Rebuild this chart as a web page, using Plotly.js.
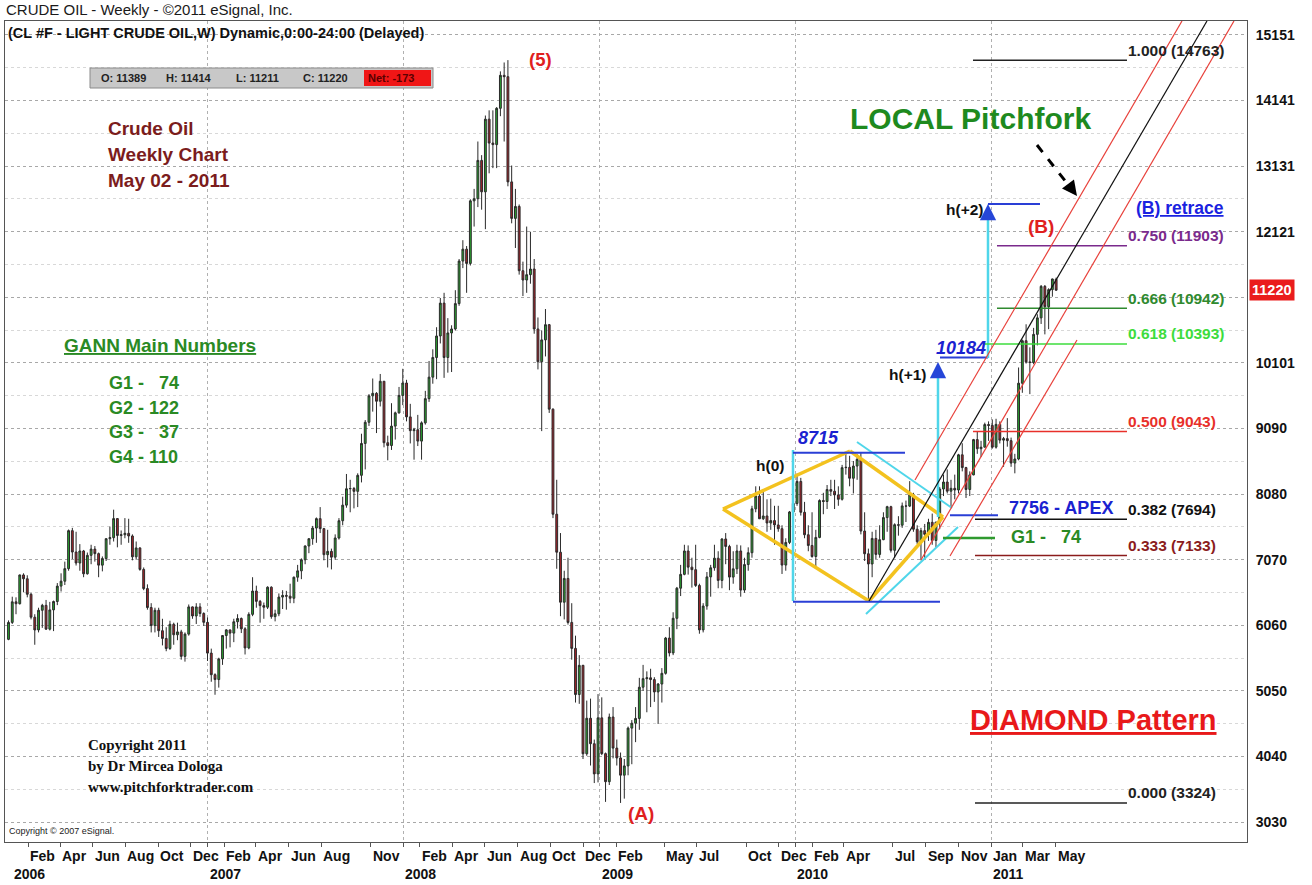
<!DOCTYPE html>
<html>
<head>
<meta charset="utf-8">
<script src="https://cdn.plot.ly/plotly-3.0.1.min.js"></script>
<style>html,body{margin:0;padding:0;background:#fff;}#chart{width:1312px;height:885px;}</style>
</head>
<body>
<div id="chart"></div>
<script>
// ---------------- DATA (weekly bars, CL #F, chart units = price x 100) ----------------
// first bar = week of 2005-12-26, one bar per week, last bar = week of 2011-05-02
const firstWeek = '2005-12-26';
const openP = [
5843,6104,6421,6392,6835,6776,6537,6184,5988,6291,
6367,6000,6297,6426,6663,6739,6932,7517,7188,7019,
7204,6853,7137,7233,7163,6986,7087,7393,7409,7703,
7443,7454,7476,7435,7114,7251,6920,6625,6333,6055,
6291,5976,5857,5702,6075,5914,5958,5581,5924,6343,
6203,6343,6241,6105,5631,5299,5224,5542,5902,5989,
5939,6114,6164,6005,5711,6228,6587,6428,6363,6338,
6646,6193,6237,6494,6520,6508,6476,6800,6898,7068,
7281,7393,7557,7702,7548,7147,7198,7109,7404,7670,
7910,8162,8166,8122,8369,8860,9186,9593,9632,9510,
9818,8871,8828,9127,9331,9600,9791,9269,9057,9071,
8896,9177,9550,9881,10184,10515,11021,10184,10562,10623,
11014,11669,11852,11632,12596,12629,13219,12735,13854,13486,
13462,14021,14529,14508,12888,12326,12510,11520,11377,11459,
11546,10623,10118,10455,10689,9388,7770,7185,6415,6781,
6104,5704,4993,5443,4081,4628,4236,3771,4634,4083,
3651,4647,4168,4017,3751,3894,4476,4552,4625,5106,
5238,5251,5224,5033,5155,5320,5863,5634,6167,6631,
6844,7204,6955,6916,6673,5989,6356,6805,6945,7093,
6751,7389,7274,6802,6929,7204,6602,6995,7177,7853,
8050,7700,7743,7635,7672,7605,7547,6987,7336,7805,
7936,8275,7800,7454,7289,7119,7413,7981,7966,8150,
8124,8068,8000,8487,8492,8324,8512,8615,7511,7161,
7004,7397,7151,7378,7718,7886,7214,7609,7601,7898,
7895,8070,7539,7346,7517,7460,7645,7366,7649,8158,
8266,8125,8169,8143,8685,8488,8151,8376,8919,8779,
8802,9151,9138,8803,9154,8911,8934,8903,8558,8620,
9788,10442,10116,10107,10540,10794,11279,10966,11229,11389];
const highP = [
6135,6500,6490,6840,6860,6830,6560,6230,6330,6390,
6450,6420,6440,6710,6860,7040,7535,7560,7500,7310,
7220,7180,7300,7280,7180,7120,7400,7580,7840,7710,
7520,7710,7700,7460,7350,7260,6950,6690,6400,6330,
6330,6160,6030,6130,6100,6100,5990,5950,6380,6350,
6400,6400,6260,6180,5700,5320,5560,5910,6000,5990,
6160,6230,6180,6030,6260,6800,6670,6450,6410,6660,
6660,6300,6550,6600,6590,6700,6810,6990,7090,7290,
7400,7590,7720,7880,7560,7530,7240,7460,7710,8040,
8390,8300,8190,8400,9010,9220,9620,9860,9650,9930,
9820,8980,9480,9350,9730,10010,9840,9470,9100,9300,
9200,9670,10130,10310,10650,11100,11180,10790,10680,11220,
11700,11990,11900,12620,12780,13510,13300,13910,13990,13990,
14040,14590,14727,14763,13140,12780,12540,11660,12200,12120,
11700,10800,10600,10930,10700,9400,8300,7480,6900,7100,
6400,5900,5600,5450,4900,4930,4300,5000,4950,4100,
4700,4800,4300,4100,4000,4500,4600,4800,5250,5450,
5350,5390,5260,5170,5400,5880,6030,6260,6650,6990,
7300,7290,7100,7300,6700,6400,6880,6990,7300,7200,
7400,7480,7300,7200,7300,7290,7100,7260,7900,8200,
8200,8150,8000,8010,7900,7900,7600,7400,7820,8000,
8395,8330,7960,7600,7800,7530,8000,8100,8220,8300,
8300,8200,8530,8700,8670,8590,8700,8715,7800,7240,
7500,7530,7600,7800,7900,7900,7630,7740,7950,7980,
8280,8100,7600,7560,7620,7700,7780,7650,8190,8380,
8460,8300,8380,8700,8863,8500,8430,8930,9050,8900,
9180,9200,9230,9240,9200,8960,9250,8950,8700,10030,
10460,10695,10340,10640,10850,11300,11300,11250,11398,11414];
const lowP = [
5830,6080,6230,6380,6570,6490,6150,5760,5950,6020,
5990,5980,5970,6370,6580,6680,6900,7080,6980,6900,
6800,6840,7000,7040,6800,6890,7050,7300,7350,7260,
7300,7400,7330,7060,7070,6900,6600,6300,5950,5950,
5880,5750,5660,5680,5760,5830,5530,5500,5900,6160,
6080,6190,6050,5510,5190,4990,5100,5450,5700,5720,
5800,6010,5940,5610,5690,6200,6330,6100,6160,6310,
6160,6120,6200,6310,6300,6400,6400,6730,6770,7000,
7170,7300,7330,7480,7060,6950,6920,7070,7380,7600,
7870,7800,7860,7880,8260,8460,9130,9350,9020,9430,
8800,8600,8760,8920,9320,9450,9200,8860,8610,8820,
8610,9150,9500,9780,9850,10400,9870,9950,9960,10600,
10980,11560,11180,11600,12200,12500,12460,12160,13020,13100,
13100,13900,13510,12820,12250,11870,11460,11130,11180,11320,
10550,10000,9050,10200,9330,7710,6930,6200,6150,6070,
5530,4870,4850,4000,4050,3900,3630,3640,4060,3340,
3600,4010,3900,3324,3390,3750,3920,4260,4450,5050,
4720,4800,4880,4540,4870,5300,5580,5600,6000,6510,
6830,6840,6640,6650,5930,5950,6300,6500,6900,6630,
6630,7000,6600,6700,6850,6500,6560,6900,7100,7800,
7700,7680,7500,7530,7300,7500,6850,6900,7310,7800,
7900,7750,7400,7200,7100,6950,7400,7770,7850,8050,
7850,7900,7980,8380,8200,8090,8300,7460,7050,6424,
6800,7080,7100,7370,7500,7180,7100,7440,7560,7650,
7880,7500,7310,7060,7080,7360,7300,7260,7540,8050,
8090,7870,8000,8090,8430,8020,8050,8370,8700,8650,
8800,8900,8780,8780,8860,8500,8810,8500,8400,8600,
9640,10090,9620,10080,10370,10700,10540,10620,11120,11211];
const closeP = [
6104,6421,6392,6835,6776,6537,6184,5988,6291,6367,
6000,6297,6426,6663,6739,6932,7517,7188,7019,7204,
6853,7137,7233,7163,6986,7087,7393,7409,7703,7443,
7454,7476,7435,7114,7251,6920,6625,6333,6055,6291,
5976,5857,5702,6075,5914,5958,5581,5924,6343,6203,
6343,6241,6105,5631,5299,5224,5542,5902,5989,5939,
6114,6164,6005,5711,6228,6587,6428,6363,6338,6646,
6193,6237,6494,6520,6508,6476,6800,6898,7068,7281,
7393,7557,7702,7548,7147,7198,7109,7404,7670,7910,
8162,8166,8122,8369,8860,9186,9593,9632,9510,9818,
8871,8828,9127,9331,9600,9791,9269,9057,9071,8896,
9177,9550,9881,10184,10515,11021,10184,10562,10623,11014,
11669,11852,11632,12596,12629,13219,12735,13854,13486,13462,
14021,14529,14508,12888,12326,12510,11520,11377,11459,11546,
10623,10118,10455,10689,9388,7770,7185,6415,6781,6104,
5704,4993,5443,4081,4628,4236,3771,4634,4083,3651,
4647,4168,4017,3751,3894,4476,4552,4625,5106,5238,
5251,5224,5033,5155,5320,5863,5634,6167,6631,6844,
7204,6955,6916,6673,5989,6356,6805,6945,7093,6751,
7389,7274,6802,6929,7204,6602,6995,7177,7853,8050,
7700,7743,7635,7672,7605,7547,6987,7336,7805,7936,
8275,7800,7454,7289,7119,7413,7981,7966,8150,8124,
8068,8000,8487,8492,8324,8512,8615,7511,7161,7004,
7397,7151,7378,7718,7886,7214,7609,7601,7898,7895,
8070,7539,7346,7517,7460,7645,7366,7649,8158,8266,
8125,8169,8143,8685,8488,8151,8376,8919,8779,8802,
9151,9138,8803,9154,8911,8934,8903,8558,8620,9788,
10442,10116,10107,10540,10794,11279,10966,11229,11393,11220];

// y axis tick labels (the 11111 label is covered by the last-price marker)
const yTickVals = [3030.3,4040.4,5050.5,6060.6,7070.7,8080.8,9090.9,10101,11111.1,12121.2,13131.3,14141.4,15151.5];
const yTickText = ['3030','4040','5050','6060','7070','8080','9090','10101','','12121','13131','14141','15151'];
// x axis month labels and year labels
const monthLabels = [
 ['2006-02-01','Feb'],['2006-04-01','Apr'],['2006-06-01','Jun'],['2006-08-01','Aug'],['2006-10-01','Oct'],['2006-12-01','Dec'],
 ['2007-02-01','Feb'],['2007-04-01','Apr'],['2007-06-01','Jun'],['2007-08-01','Aug'],['2007-11-01','Nov'],
 ['2008-02-01','Feb'],['2008-04-01','Apr'],['2008-06-01','Jun'],['2008-08-01','Aug'],['2008-10-01','Oct'],['2008-12-01','Dec'],
 ['2009-02-01','Feb'],['2009-05-01','May'],['2009-07-01','Jul'],['2009-10-01','Oct'],['2009-12-01','Dec'],
 ['2010-02-01','Feb'],['2010-04-01','Apr'],['2010-07-01','Jul'],['2010-09-01','Sep'],['2010-11-01','Nov'],
 ['2011-01-01','Jan'],['2011-03-01','Mar'],['2011-05-01','May']];
const yearLabels = [['2006-01-01','2006'],['2007-01-01','2007'],['2008-01-01','2008'],['2009-01-01','2009'],['2010-01-01','2010'],['2011-01-01','2011']];
// Fibonacci retracement levels of the (5)-(A) move
const fibRatios = ['1.000','0.750','0.666','0.618','0.500','0.382','0.333','0.000'];
const fibPrices = [14763,11903,10942,10393,9043,7694,7133,3324];
const fibColors = ['#222222','#7a2a8c','#2f8a2f','#3ddc3d','#e8302a','#111111','#8b1c1c','#222222'];
const gannLines = ['G1 - &nbsp;&nbsp;74','G2 - 122','G3 - &nbsp;&nbsp;37','G4 - 110'];
const lastBar = {O:11389,H:11414,L:11211,C:11220,Net:-173};

// ---------------- helpers ----------------
const BASE = Date.parse(firstWeek+'T00:00:00Z');
const WK = 7*864e5;
function pad(n){return (n<10?'0':'')+n;}
function fmt(ms){const d=new Date(ms);return d.getUTCFullYear()+'-'+pad(d.getUTCMonth()+1)+'-'+pad(d.getUTCDate())+' '+pad(d.getUTCHours())+':'+pad(d.getUTCMinutes())+':'+pad(d.getUTCSeconds());}
function wkDate(w){return fmt(BASE + w*WK);}
const dates = openP.map((_,i)=>wkDate(i));
// drawing positions for overlays (screen-derived helpers)
const PL=5, PR=1247, PT=21, PB=842;
function PX(x){return (x-PL)/(PR-PL);}
function PY(y){return (PB-y)/(PB-PT);}
function DX(x){return wkDate((x-8.5)/3.755);}
function DY(y){return 3030.3+(822-y)*15.4;}

const FONT='Liberation Sans, Arial, sans-serif';
const SERIF='Liberation Serif, Times New Roman, serif';

const trace = {
  type:'candlestick', x:dates, open:openP, high:highP, low:lowP, close:closeP,
  increasing:{line:{color:'#2a2a2a',width:1},fillcolor:'#2aa530'},
  decreasing:{line:{color:'#2a2a2a',width:1},fillcolor:'#a8232a'},
  whiskerwidth:0, hoverinfo:'skip', showlegend:false
};

const shapes=[]; const ann=[];
function seg(x0,y0,x1,y1,color,width,dash){shapes.push({type:'line',xref:'x',yref:'y',x0:DX(x0),y0:DY(y0),x1:DX(x1),y1:DY(y1),line:{color:color,width:width,dash:dash||'solid'}});}
function hline(xa,xb,price,color,width){shapes.push({type:'line',xref:'x',yref:'y',x0:DX(xa),x1:DX(xb),y0:price,y1:price,line:{color:color,width:width}});}
function txt(x,y,text,size,color,opts){ann.push(Object.assign({xref:'paper',yref:'paper',x:PX(x),y:PY(y),text:text,showarrow:false,xanchor:'left',yanchor:'middle',font:{family:FONT,size:size,color:color}},opts||{}));}

// Diamond
const GOLD='#f3c21f';
seg(723,509,850,451,GOLD,3.5); seg(850,451,943,517,GOLD,3.5); seg(943,517,869,601,GOLD,3.5); seg(869,601,723,509,GOLD,3.5);
// cyan outer lines of diamond
const CY='#4fd6ea';
seg(857,442,952,508,CY,2); seg(866,614,958,527,CY,2);
// cyan vertical box line and blue horizontals
seg(793,450,793,601,CY,2.5);
const BL='#2a3fd6';
hline(793,905,8715,BL,2);
hline(793,940,6424,BL,2);
// h(+1) projection
seg(938,517,938,372,CY,2.5);
hline(940,988,10184,BL,2);
// h(+2) projection
seg(988,358,988,214,CY,2.5);
hline(988,1040,DY(204),BL,2);
// APEX and G1 lines
hline(950,998,7756,BL,2);
hline(943,995,DY(538),'#2f9a2f',2.5);
// Fib lines
const fibStart=[973,997,997,985,973,975,975,975];
fibPrices.forEach((p,i)=>{hline(fibStart[i],1127,p,fibColors[i],1.5);});
// Pitchfork (median + parallels + warning line)
seg(869,601,1207,21,'#111111',1.2);
seg(915,480,1182,21,'#e8403a',1.2);
seg(921,560,1234,21,'#e8403a',1.2);
seg(950,556,1077,340,'#e8403a',1.2);
// dashed pointer to the pitchfork
seg(1037,145,1070,187,'#000000',3,'dash');

// OHLC box (paper)
shapes.push({type:'rect',xref:'paper',yref:'paper',x0:PX(90),x1:PX(433),y0:PY(68),y1:PY(88),fillcolor:'#c8c8c8',line:{color:'#8a8a8a',width:1}});
shapes.push({type:'rect',xref:'paper',yref:'paper',x0:PX(364),x1:PX(431),y0:PY(70),y1:PY(86),fillcolor:'#f01616',line:{width:0}});

// ---------- annotations ----------
txt(4,9,'CRUDE OIL - Weekly - ©2011 eSignal, Inc.',15,'#1a1a1a');
txt(6,33,'<b>(CL #F - LIGHT CRUDE OIL,W) Dynamic,0:00-24:00 (Delayed)</b>',14.5,'#111');
txt(99,78,'<b>O: '+lastBar.O+'</b>',11,'#222');
txt(164,78,'<b>H: '+lastBar.H+'</b>',11,'#222');
txt(234,78,'<b>L: '+lastBar.L+'</b>',11,'#222');
txt(301,78,'<b>C: '+lastBar.C+'</b>',11,'#222');
txt(366,78,'<b>Net: '+lastBar.Net+'</b>',11,'#5a0000');
const DR='#7b1c1c';
txt(106,128,'<b>Crude Oil</b>',19,DR);
txt(106,154,'<b>Weekly Chart</b>',19,DR);
txt(106,180,'<b>May 02 - 2011</b>',19,DR);
const GR='#2a8a24';
txt(62,345,'<b><u>GANN Main Numbers</u></b>',19,GR);
gannLines.forEach((t,i)=>txt(107,383+i*24.7,'<b>'+t+'</b>',18,GR));
txt(848,118,'<b>LOCAL Pitchfork</b>',30,'#1e8a1e');
txt(968,720,'<b><u>DIAMOND Pattern</u></b>',29,'#e8191a');
txt(1134,208,'<b><u>(B) retrace</u></b>',17.5,'#1a22e0');
fibPrices.forEach((p,i)=>{const y=822-(p-3030.3)/15.4-10;txt(1126,y,'<b>'+fibRatios[i]+' ('+p+')</b>',15.5,fibColors[i]);});
txt(527,60,'<b>(5)</b>',18.5,'#e0201e');
txt(626,813,'<b>(A)</b>',19,'#e0201e');
txt(1026,226,'<b>(B)</b>',19,'#e0201e');
txt(754,465,'<b>h(0)</b>',15.5,'#111');
txt(887,374,'<b>h(+1)</b>',15.5,'#111');
txt(944,210,'<b>h(+2)</b>',15.5,'#111');
txt(796,438,'<b><i>8715</i></b>',18,'#1a22d0');
txt(934,348,'<b><i>10184</i></b>',18,'#1a22d0');
txt(1007,508,'<b>7756 - APEX</b>',18,'#1a22d0');
txt(1009,537,'<b>G1 - &nbsp;&nbsp;74</b>',18,GR);
txt(86,745,'<b>Copyright 2011</b>',15,'#111',{font:{family:SERIF,size:15,color:'#111'}});
txt(86,766,'<b>by Dr Mircea Dologa</b>',15,'#111',{font:{family:SERIF,size:15,color:'#111'}});
txt(86,787,'<b>www.pitchforktrader.com</b>',15,'#111',{font:{family:SERIF,size:15,color:'#111'}});
txt(7,831,'Copyright © 2007 eSignal.',9,'#222');
// price marker on axis
ann.push({xref:'paper',yref:'y',x:PX(1249),y:lastBar.C,text:'<b>'+lastBar.C+'</b>',showarrow:false,xanchor:'left',yanchor:'middle',bgcolor:'#ea1c1c',font:{family:FONT,size:14.5,color:'#ffffff'},borderpad:2});
// arrowheads
ann.push({xref:'x',yref:'y',x:DX(1077),y:DY(196),ax:-9,ay:-12,text:'',showarrow:true,arrowhead:2,arrowsize:1,arrowwidth:3,arrowcolor:'#000'});
ann.push({xref:'x',yref:'y',x:DX(938),y:DY(362),ax:0,ay:14,text:'',showarrow:true,arrowhead:2,arrowsize:1.3,arrowwidth:2.5,arrowcolor:'#2646d8'});
ann.push({xref:'x',yref:'y',x:DX(988),y:DY(204),ax:0,ay:14,text:'',showarrow:true,arrowhead:2,arrowsize:1.3,arrowwidth:2.5,arrowcolor:'#2646d8'});
// x axis labels
monthLabels.forEach(m=>ann.push({xref:'x',yref:'paper',x:m[0],y:PY(856),text:'<b>'+m[1]+'</b>',showarrow:false,xanchor:'left',yanchor:'middle',font:{family:FONT,size:14,color:'#111'}}));
yearLabels.forEach(m=>ann.push({xref:'x',yref:'paper',x:m[0],y:PY(874),text:'<b>'+m[1]+'</b>',showarrow:false,xanchor:'left',yanchor:'middle',font:{family:FONT,size:14,color:'#111'}}));

const halfTicks = yTickVals.slice(0,-1).map((v,i)=>(v+yTickVals[i+1])/2);
const layout = {
  width:1312, height:885, margin:{l:PL,r:1312-PR,t:PT,b:885-PB,pad:0},
  paper_bgcolor:'#ffffff', plot_bgcolor:'#ffffff', showlegend:false, dragmode:false,
  xaxis:{type:'date', range:[wkDate(-0.932),wkDate(329.83)], rangeslider:{visible:false},
    showline:true, linecolor:'#555', linewidth:1, mirror:true, showticklabels:false,
    tickmode:'array', tickvals:yearLabels.slice(1).map(d=>d[0]), ticks:'outside', ticklen:4, tickcolor:'#555',
    showgrid:true, gridcolor:'#b0b0b0', griddash:'dot', gridwidth:1, zeroline:false, fixedrange:true,
    minor:{tickmode:'array', tickvals:monthLabels.map(m=>m[0]), ticks:'outside', ticklen:4, tickcolor:'#555', showgrid:false}},
  yaxis:{side:'right', range:[2722.3,15365.7], tickmode:'array', tickvals:yTickVals, ticktext:yTickText.map(t=>t?'<b>'+t+'</b>':''),
    tickfont:{family:FONT,size:14,color:'#111'}, ticks:'', ticklabelstandoff:5,
    showline:true, linecolor:'#555', linewidth:1, mirror:true,
    showgrid:true, gridcolor:'#a8a8a8', griddash:'dot', gridwidth:1, zeroline:false, fixedrange:true,
    minor:{tickmode:'array', tickvals:halfTicks, showgrid:true, gridcolor:'#d8d8d8', griddash:'dot', ticks:''}},
  shapes:shapes, annotations:ann
};
Plotly.newPlot('chart',[trace],layout,{displayModeBar:false,staticPlot:true});
</script>
</body>
</html>
